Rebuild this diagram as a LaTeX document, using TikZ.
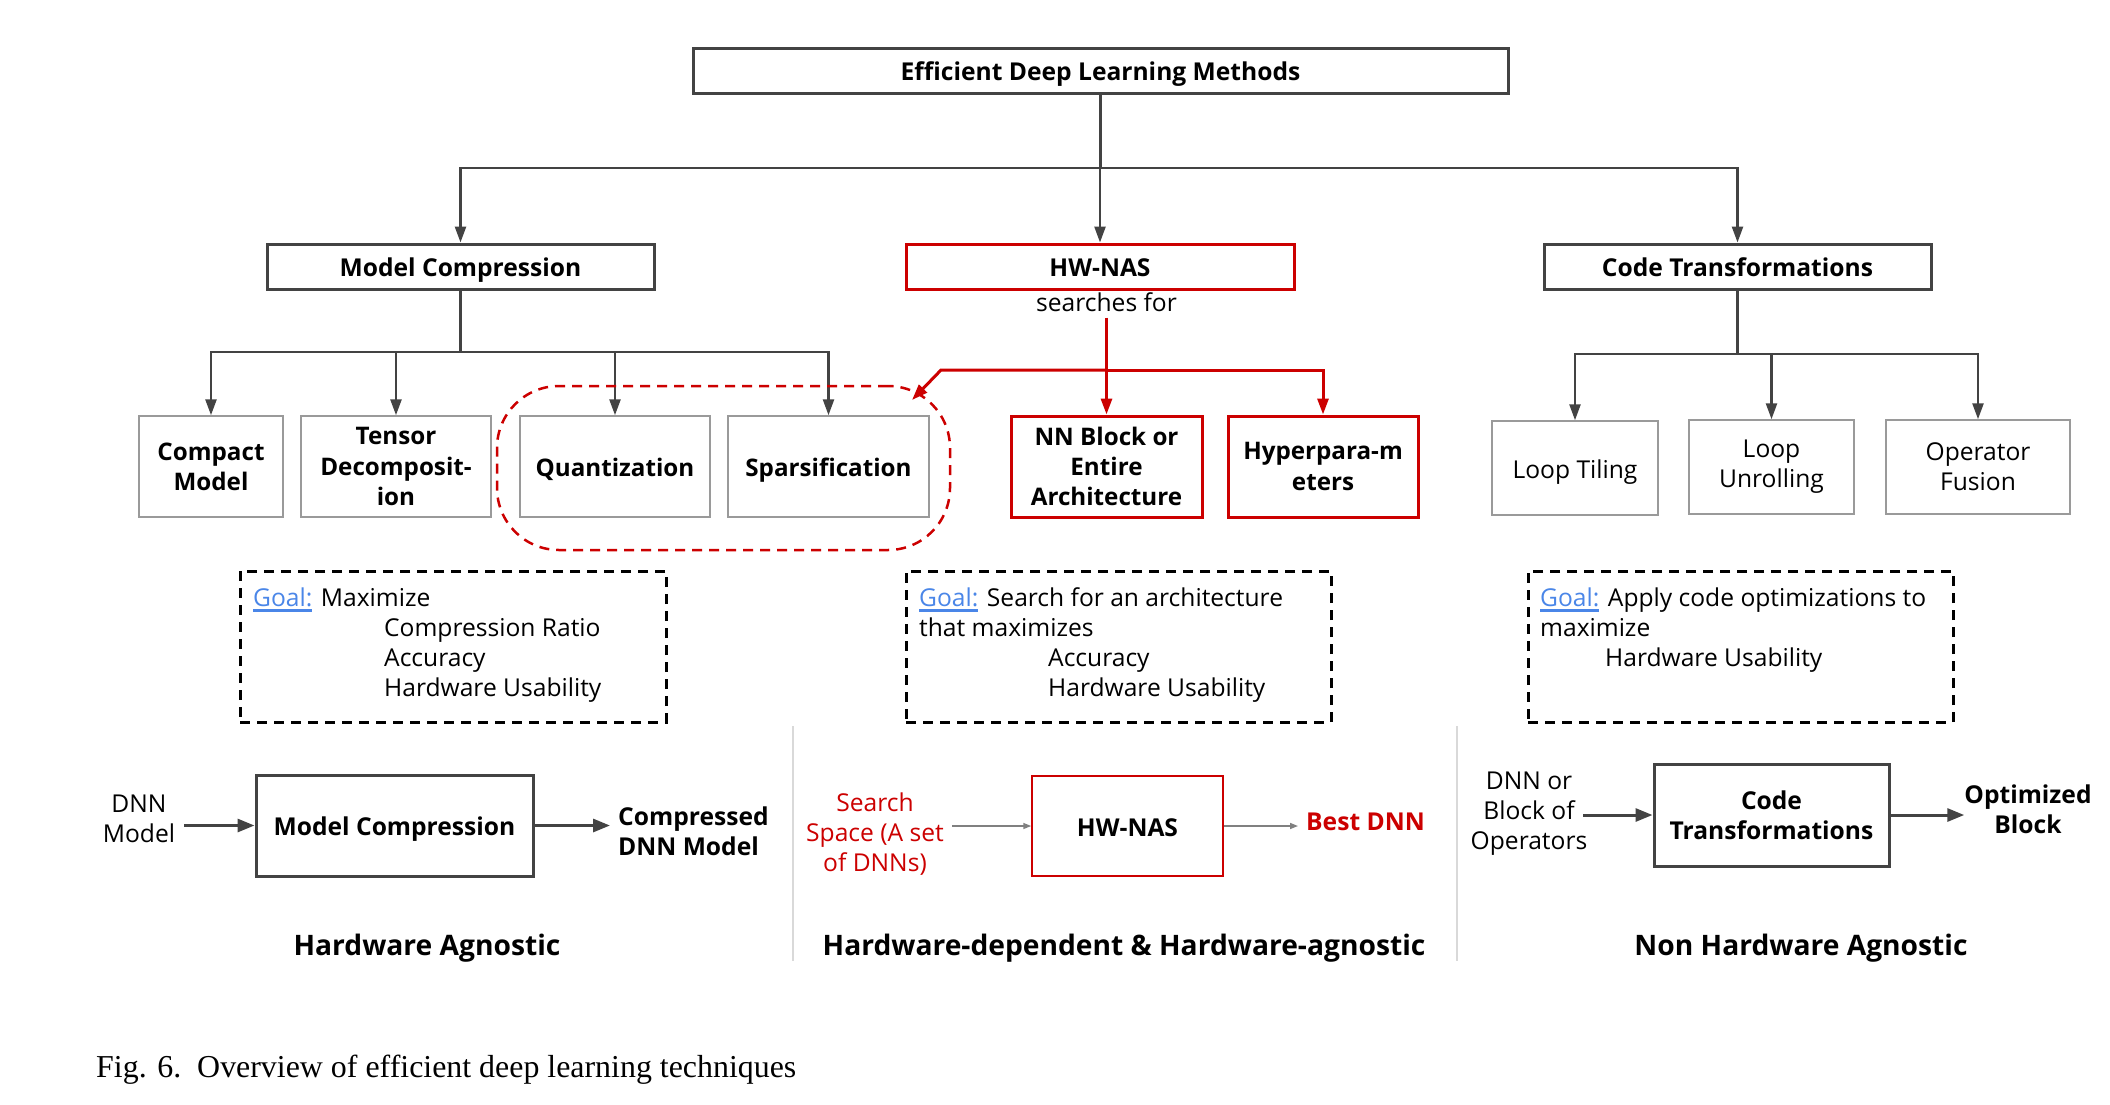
\documentclass[tikz,border=0pt]{standalone}
\usepackage{fontspec}
\setmainfont{Open Sans}
\newfontfamily\capfont{Liberation Serif}
\usetikzlibrary{arrows.meta}
\definecolor{dgray}{HTML}{434343}
\definecolor{lgray}{HTML}{9A9A9A}
\definecolor{sepgray}{HTML}{D9D9D9}
\definecolor{gred}{HTML}{CC0000}
\definecolor{gblue}{HTML}{4A86E8}
\newlength\goallen
\newcommand{\goalw}{\settowidth{\goallen}{Goal:}{\color{gblue}\rlap{\rule[-5.3pt]{\goallen}{2.6pt}}Goal:}}
\begin{document}
\begin{tikzpicture}[x=1pt,y=-1pt,
  hfont/.style={font=\bfseries\fontsize{24.6}{30}\selectfont},
  bfont/.style={font=\bfseries\fontsize{24.2}{30.2}\selectfont},
  rfont/.style={font=\fontsize{24.6}{30}\selectfont},
  tfont/.style={font=\bfseries\fontsize{28.2}{34}\selectfont},
  oneline/.style={text height=20pt, text depth=0pt},
  hbox/.style={hfont, oneline, draw=dgray, line width=3pt, minimum height=45pt, inner sep=0pt},
  leaf/.style={bfont, draw=lgray, line width=1.5pt, align=center, minimum height=101pt, inner sep=0pt},
  rleaf/.style={leaf, rfont, minimum height=94pt},
  redleaf/.style={leaf, draw=gred, line width=3pt},
  goalbox/.style={draw=black, line width=3pt, dash pattern=on 10pt off 7pt, minimum width=425pt, minimum height=151pt, inner sep=0pt},
  gtext/.style={rfont, anchor=base west, inner sep=0pt},
  conn/.style={draw=dgray, line width=2.5pt},
  arr/.style={conn, -{Triangle[length=16pt,width=11pt]}},
  redarr/.style={draw=gred, line width=3pt, -{Triangle[length=16pt,width=11pt]}},
  bbox/.style={hfont, draw=dgray, line width=3pt, align=center, inner sep=0pt},
  barr/.style={draw=dgray, line width=3pt, -{Triangle[length=17pt,width=13pt]}},
  tarr/.style={draw=gray, line width=1.5pt, -{Triangle[length=8pt,width=6pt]}},
  sepline/.style={draw=sepgray, line width=2pt}
]
\useasboundingbox[fill=white] (0,0) rectangle (2110,1104);

% level 0 and 1
\node[hbox, minimum width=815pt] (top) at (1100.5,70.5) {Efficient Deep Learning Methods};
\node[hbox, minimum width=387pt] (mc) at (460.5,266.5) {Model Compression};
\node[hbox, draw=gred, minimum width=388pt] (hw) at (1100,266.5) {HW-NAS};
\node[hbox, minimum width=387pt] (ct) at (1737.5,266.5) {Code Transformations};
\node[rfont, inner xsep=0pt, inner ysep=6pt] (sf) at (1106.5,302) {searches for};

\coordinate (tb) at (1100.5,168);
\draw[conn] (top.south) -- (tb);
\draw[arr] (tb) -| (mc.north);
\draw[arr] (tb) -- (tb -| hw.north) -- (hw.north);
\draw[arr] (tb) -| (ct.north);

% model compression leaves
\node[leaf, minimum width=144pt] (cm) at (211,466.5) {Compact\\Model};
\node[leaf, minimum width=190pt] (td) at (396,466.5) {Tensor\\Decomposit-\\ion};
\node[leaf, oneline, minimum width=190pt] (qz) at (615,466.5) {Quantization};
\node[leaf, oneline, minimum width=201pt] (sp) at (828.5,466.5) {Sparsification};
\coordinate (mb) at (460.5,352);
\draw[conn] (mc.south) -- (mb);
\draw[arr] (mb) -| (cm.north);
\draw[arr] (mb) -| (td.north);
\draw[arr] (mb) -| (qz.north);
\draw[arr] (mb) -| (sp.north);
\node[draw=gred, line width=2.5pt, dash pattern=on 10pt off 7pt, rounded corners=62pt, minimum width=453pt, minimum height=164pt, inner sep=0pt] (grp) at (723.5,468) {};

% HW-NAS leaves
\node[redleaf, minimum width=191pt] (nn) at (1106.5,466.5) {NN Block or\\Entire\\Architecture};
\node[redleaf, minimum width=190pt] (hy) at (1323,466.5) {Hyperpara-m\\eters};
\coordinate (rj) at (1106.5,370);
\coordinate (rl) at (941,370);
\coordinate (rt) at (912,400);
\draw[draw=gred, line width=3pt] (sf.south) -- (rj);
\draw[redarr] (rj) -- (nn.north);
\draw[redarr] (rj) -| (hy.north);
\draw[redarr] (rj) -- (rl) -- (rt);

% code transformation leaves
\node[rleaf, oneline, minimum width=166pt] (lt) at (1575,468) {Loop Tiling};
\node[rleaf, minimum width=165pt] (lu) at (1771.5,467) {Loop\\Unrolling};
\node[rleaf, minimum width=184pt] (of) at (1978,467) {Operator\\Fusion};
\coordinate (cb) at (1737.5,354);
\draw[conn] (ct.south) -- (cb);
\draw[arr] (cb) -| (lt.north);
\draw[arr] (cb) -| (lu.north);
\draw[arr] (cb) -| (of.north);

% goal boxes
\node[goalbox, minimum width=426pt] (gb1) at (453,646.5) {};
\node[gtext] (g1a) at (253,606.7) {\goalw{} Maximize};
\node[gtext] (g1b) at (384,636.7) {Compression Ratio};
\node[gtext] (g1c) at (384,666.7) {Accuracy};
\node[gtext] (g1d) at (384,696.7) {Hardware Usability};

\node[goalbox] (gb2) at (1118.5,646.5) {};
\node[gtext] (g2a) at (919,606.7) {\goalw{} Search for an architecture};
\node[gtext] (g2b) at (919,636.7) {that maximizes};
\node[gtext] (g2c) at (1048,666.7) {Accuracy};
\node[gtext] (g2d) at (1048,696.7) {Hardware Usability};

\node[goalbox] (gb3) at (1740.5,646.5) {};
\node[gtext] (g3a) at (1540,606.7) {\goalw{} Apply code optimizations to};
\node[gtext] (g3b) at (1540,636.7) {maximize};
\node[gtext] (g3c) at (1605,666.7) {Hardware Usability};

% separators
\draw[sepline] (793,726) -- (793,961);
\draw[sepline] (1457,726) -- (1457,961);

% bottom: model compression
\node[rfont, align=center, inner xsep=9pt] (dnn) at (139,819) {DNN\\Model};
\node[bbox, oneline, minimum width=277pt, minimum height=101pt] (mc2) at (394.5,825.5) {Model Compression};
\node[hfont, align=left, anchor=west, inner xsep=8pt] (cdm) at (610,831) {Compressed\\DNN Model};
\draw[barr] (dnn.east |- mc2.west) -- (mc2.west);
\draw[barr] (mc2.east) -- (cdm.west |- mc2.east);
\node[tfont] (t1) at (427,948.5) {Hardware Agnostic};

% bottom: HW-NAS
\node[rfont, text=gred, align=center, inner xsep=8pt] (ss) at (875,834) {Search\\Space (A set\\of DNNs)};
\node[hfont, oneline, draw=gred, line width=1.5pt, minimum width=191pt, minimum height=100pt, inner sep=0pt] (hw2) at (1127.5,826) {HW-NAS};
\node[hfont, text=gred, anchor=west, inner xsep=8pt] (best) at (1298,822) {Best DNN};
\draw[tarr] (ss.east |- hw2.west) -- (hw2.west);
\draw[tarr] (hw2.east) -- (best.west |- hw2.east);
\node[tfont] (t2) at (1124,948.5) {Hardware-dependent \& Hardware-agnostic};

% bottom: code transformations
\node[rfont, align=center, inner sep=0pt] (dbo) at (1529,814) {DNN or\\Block of\\Operators};
\coordinate (dboa) at (1583,815);
\node[bbox, minimum width=235pt, minimum height=102pt] (ct2) at (1771.5,815) {Code\\Transformations};
\node[hfont, align=center, inner sep=0pt] (ob) at (2028,809) {Optimized\\Block};
\draw[barr] (dboa) -- (dboa -| ct2.west);
\draw[barr] (ct2.east) -- (ob.west |- ct2.east);
\node[tfont] (t3) at (1801,948.5) {Non Hardware Agnostic};

% caption
\node[font=\capfont\fontsize{31.9}{36}\selectfont, anchor=west, inner sep=0pt] (cap) at (96,1070) {Fig. 6.\ \ Overview of efficient deep learning techniques};
\end{tikzpicture}
\end{document}
